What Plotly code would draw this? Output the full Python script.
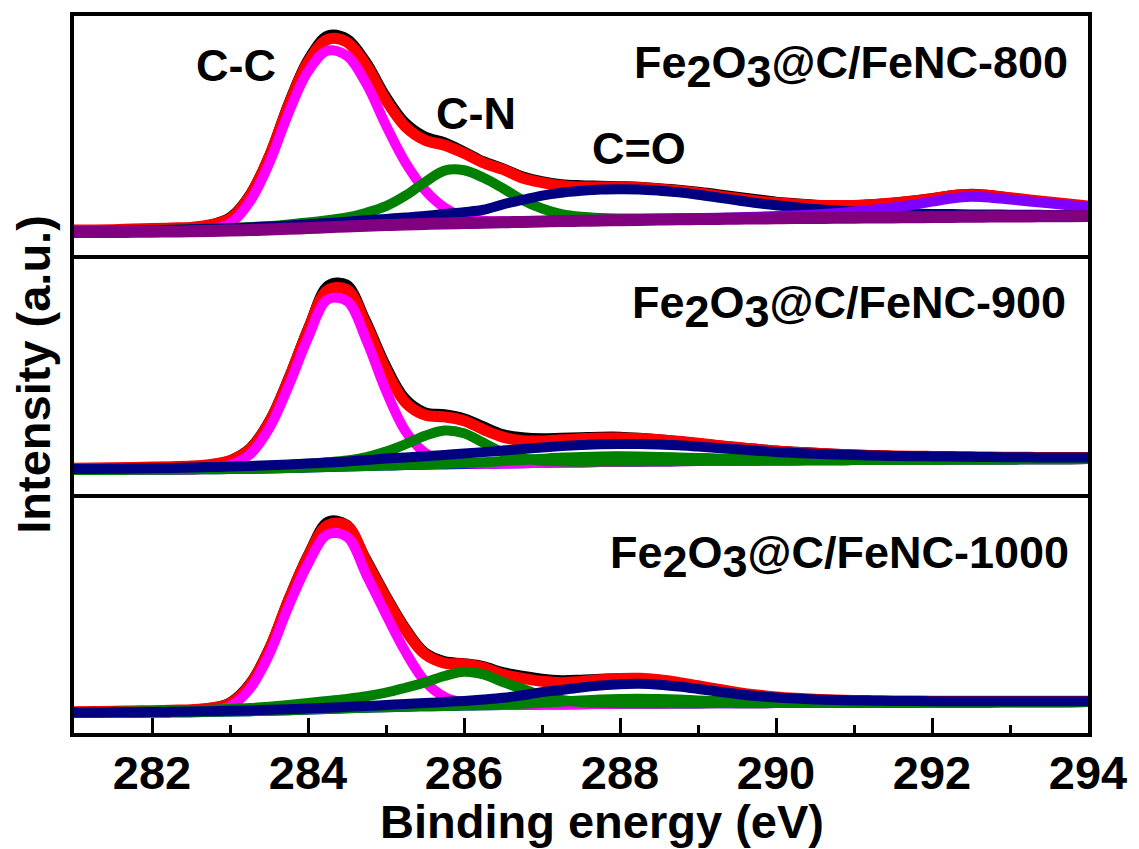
import numpy as np
import plotly.graph_objects as go
from plotly.subplots import make_subplots

# ---------------- data (intensity in a.u.) ----------------
binding_energy = np.round(np.arange(281.0, 294.0001, 0.25), 2)  # 53 sample energies (eV)

# Panel 1: Fe2O3@C/FeNC-800
bg_800 = [23, 23, 23, 23.2, 23.4, 23.6, 23.8, 24.1, 24.5, 25, 25.5, 26.2, 27, 27.8, 28.6, 29.4, 30, 30.6,
          31.1, 31.6, 32, 32.4, 32.8, 33.2, 33.6, 34, 34.3, 34.6, 34.9, 35.2, 35.5, 35.8, 36, 36.2, 36.4,
          36.6, 36.8, 37, 37.1, 37.3, 37.4, 37.6, 37.7, 37.9, 38, 38.2, 38.3, 38.5, 38.6, 38.7, 38.8, 38.9, 39]
cc_800 = [0, 0, 0, 0, 0, 0, 0, 2, 7, 28, 66, 116, 157, 177, 171, 142, 100, 62, 34, 16, 6, 2, 1,
          0, 0, 0, 0, 0, 0, 0, 0, 0, 0, 0, 0, 0, 0, 0, 0, 0, 0, 0, 0, 0, 0, 0, 0, 0, 0, 0, 0, 0, 0]
cn_800 = [1, 1, 1.2, 1.4, 1.6, 1.8, 2, 2.2, 2.5, 3, 3.5, 4.5, 5.5, 7, 9, 13, 19, 29, 42, 53, 53, 45, 34,
          22, 13, 7, 4, 2.5, 1.8, 1.4, 1.1, 0.9, 0.7, 0.6, 0.5, 0.4, 0.3, 0.3, 0.2, 0.2, 0.1,
          0, 0, 0, 0, 0, 0, 0, 0, 0, 0, 0, 0]
co_800 = [1, 1.1, 1.2, 1.4, 1.5, 1.7, 1.9, 2.1, 2.4, 2.7, 3, 3.4, 3.8, 4.3, 4.8, 5.4, 6.2, 7, 8, 9.5, 11,
          13, 18, 22, 26, 28.5, 30, 31, 31, 30.5, 29, 27, 24.5, 21.5, 18.5, 15.5, 13, 11, 9, 7.5, 6.2,
          5.2, 4.4, 3.7, 3.2, 2.8, 2.4, 2.1, 1.8, 1.6, 1.4, 1.2, 1]
sat_800 = [0, 0, 0, 0, 0, 0, 0, 0, 0, 0, 0, 0, 0, 0, 0, 0, 0, 0, 0, 0, 0, 0, 0, 0, 0, 0, 0, 0,
           0.5, 0.6, 0.7, 0.85, 1, 1.2, 1.5, 1.8, 2.2, 2.8, 3.6, 4.6, 6, 7.8, 10, 12.5, 15.5, 18.5,
           20, 19, 17, 15, 13, 11, 9]
raw_800 = [25.5, 25.5, 26, 26.5, 27, 27.5, 28.5, 31.5, 39, 62, 102, 155, 198, 221, 218, 195, 161, 134,
           120, 114, 105, 95, 88, 80, 75, 72, 71, 70.5, 70, 69.5, 68, 66.5, 64.5, 62, 59.5, 57, 54.5,
           53, 51.5, 51, 51, 52, 53.5, 55.5, 58, 61, 62.5, 61, 58.5, 56, 54, 51.5, 49.5]

# Panel 2: Fe2O3@C/FeNC-900
bg_900 = [24, 24, 24.1, 24.2, 24.3, 24.4, 24.6, 24.8, 25, 25.3, 25.6, 26, 26.5, 27, 27.5, 28, 28.5, 29,
          29.4, 29.7, 30, 30.3, 30.6, 30.9, 31.2, 31.5, 31.7, 32, 32.2, 32.4, 32.6, 32.8, 33, 33.15,
          33.3, 33.45, 33.6, 33.7, 33.8, 33.9, 34, 34.1, 34.2, 34.3, 34.4, 34.5, 34.55, 34.6, 34.7,
          34.75, 34.8, 34.9, 35]
cc_900 = [0, 0, 0, 0, 0, 0, 0, 1, 4, 14, 40, 82, 130, 168, 166, 126, 75, 34, 12, 3.5, 1,
          0, 0, 0, 0, 0, 0, 0, 0, 0, 0, 0, 0, 0, 0, 0, 0, 0, 0, 0, 0, 0, 0, 0, 0, 0, 0, 0, 0, 0, 0, 0, 0]
cn_900 = [0.8, 0.9, 1, 1.1, 1.2, 1.3, 1.5, 1.7, 2, 2.3, 2.6, 3.1, 3.8, 4.8, 6.2, 9, 14, 21, 29, 34, 31,
          21, 11, 5, 2.2, 1.2, 0.7, 0.5, 0.4, 0.3, 0.3, 0.2, 0.2, 0.1, 0.1,
          0, 0, 0, 0, 0, 0, 0, 0, 0, 0, 0, 0, 0, 0, 0, 0, 0, 0]
cn2_900 = [0, 0, 0, 0, 0, 0, 0, 0, 0, 0, 0, 0, 0, 0, 0, 0, 0, 0, 0.3, 0.6, 1, 1.6, 2.4, 3.3, 4.2, 5,
           5.5, 5.7, 5.6, 5.2, 4.6, 3.9, 3.2, 2.5, 1.9, 1.4, 1, 0.7, 0.5, 0.3, 0.2,
           0, 0, 0, 0, 0, 0, 0, 0, 0, 0, 0, 0]
co_900 = [1, 1.1, 1.2, 1.35, 1.5, 1.7, 1.9, 2.2, 2.5, 2.8, 3.2, 3.6, 4, 4.5, 5, 6, 7, 7.7, 8.5, 9.5,
          10.5, 11.7, 13, 14.3, 15.5, 16.6, 17.5, 18, 18, 17.7, 17, 16, 14.5, 13, 11.5, 10, 8.5, 7.5,
          6.5, 5.7, 5, 4.5, 4, 3.6, 3.3, 3, 2.7, 2.4, 2.2, 2, 1.8, 1.6, 1.5]
raw_900 = [26, 26.2, 26.5, 27, 27.3, 27.8, 28.6, 30.5, 35, 47, 75, 119, 169, 210, 211, 175, 131, 97, 83,
           81, 77, 69, 61, 58, 57, 57.5, 58, 58.5, 58.5, 57.5, 56, 54, 52, 50, 48, 46.3, 44.6, 43.4,
           42.3, 41.3, 40.5, 39.8, 39.2, 38.8, 38.5, 38.2, 37.9, 37.6, 37.4, 37.2, 37, 36.8, 36.7]

# Panel 3: Fe2O3@C/FeNC-1000
bg_1000 = [20, 20.1, 20.2, 20.35, 20.5, 20.7, 20.9, 21.2, 21.5, 21.9, 22.4, 22.9, 23.5, 24.1, 24.7,
           25.3, 25.9, 26.4, 26.8, 27.2, 27.5, 27.8, 28, 28.3, 28.5, 28.7, 28.9, 29.05, 29.2, 29.35,
           29.45, 29.6, 29.7, 29.8, 29.85, 29.9, 30, 30.1, 30.15, 30.2, 30.3, 30.35, 30.4, 30.45,
           30.5, 30.6, 30.65, 30.7, 30.8, 30.85, 30.9, 30.95, 31]
cc_1000 = [0, 0, 0, 0, 0, 0, 0, 1, 5, 22, 56, 104, 146, 175, 172, 133, 93, 55, 25, 9, 3, 1,
           0, 0, 0, 0, 0, 0, 0, 0, 0, 0, 0, 0, 0, 0, 0, 0, 0, 0, 0, 0, 0, 0, 0, 0, 0, 0, 0, 0, 0, 0, 0]
cn_1000 = [0.8, 0.9, 1, 1.2, 1.4, 1.6, 1.9, 2.2, 2.6, 3.1, 4, 5.2, 6.5, 8, 9.5, 11.5, 14.5, 19, 24,
           30, 34, 31, 23, 16, 9, 4.5, 2.2, 1.2, 0.7, 0.5, 0.4, 0.3, 0.2, 0.2, 0.1,
           0, 0, 0, 0, 0, 0, 0, 0, 0, 0, 0, 0, 0, 0, 0, 0, 0, 0]
cn2_1000 = [0, 0, 0, 0, 0, 0, 0, 0, 0, 0, 0, 0, 0, 0, 0, 0, 0, 0, 0, 0, 0, 0, 0.5, 1, 1.8, 2.8,
            3.8, 4.6, 5, 5, 4.6, 3.9, 3, 2.2, 1.5, 1, 0.6, 0.3, 0.1,
            0, 0, 0, 0, 0, 0, 0, 0, 0, 0, 0, 0, 0, 0]
co_1000 = [0.5, 0.5, 0.5, 0.5, 0.5, 0.55, 0.6, 0.65, 0.7, 0.75, 0.8, 0.9, 1, 1.2, 1.5, 1.8, 2.2, 2.7,
           3.2, 3.9, 4.7, 5.8, 7.3, 9.5, 12.5, 14.5, 16.8, 18.6, 19.8, 20, 19, 17, 14.5, 11.8, 9.3,
           7.2, 5.6, 4.4, 3.5, 2.9, 2.4, 2.1, 1.8, 1.6, 1.4, 1.3, 1.2, 1.1, 1, 0.95, 0.9, 0.85, 0.8]
raw_1000 = [21.5, 21.7, 22, 22.3, 22.7, 23.2, 24, 26, 32, 51, 87, 137, 181, 213, 210, 176, 140, 107,
            82, 73, 71, 68, 62, 58.5, 55.5, 54, 54.5, 55.5, 56, 55.5, 54, 51.5, 48, 44.5, 41, 38.5,
            36.5, 35, 34, 33.3, 32.8, 32.5, 32.3, 32.1, 32, 32, 31.9, 31.9, 31.9, 31.9, 31.8, 31.8, 31.8]

sample_names = ["Fe<sub><span style='font-size:45px'>2</span></sub>O<sub><span style='font-size:45px'>3</span></sub>@C/FeNC-800",
                "Fe<sub><span style='font-size:45px'>2</span></sub>O<sub><span style='font-size:45px'>3</span></sub>@C/FeNC-900",
                "Fe<sub><span style='font-size:45px'>2</span></sub>O<sub><span style='font-size:45px'>3</span></sub>@C/FeNC-1000"]
peak_labels = ["C-C", "C-N", "C=O"]
x_ticks = [282, 284, 286, 288, 290, 292, 294]

# ---------------- figure ----------------
W, H = 1139, 849
ML, MR, MT, MB = 74, 44, 14, 116
PW, PH = W - ML - MR, H - MT - MB
PANEL_H = PH / 3.0

fig = make_subplots(rows=3, cols=1, shared_xaxes=True, vertical_spacing=0)

BLACK, RED, MAGENTA, GREEN, NAVY, VIOLET, PURPLE, BLUE = (
    "#000000", "#FF0000", "#FF00FF", "#008000", "#000080", "#8000FF", "#800080", "#0000FF")


def add(row, y, color, width):
    fig.add_trace(go.Scatter(x=binding_energy, y=y, mode="lines",
                             line=dict(color=color, width=width, shape="spline", smoothing=1),
                             showlegend=False, hoverinfo="skip"), row=row, col=1)


panels = [
    dict(bg=bg_800, comps=[(cc_800, MAGENTA), (cn_800, GREEN), (co_800, NAVY), (sat_800, VIOLET)],
         raw=raw_800, bgcolor=PURPLE, bg_top=True),
    dict(bg=bg_900, comps=[(cc_900, MAGENTA), (cn_900, GREEN), (cn2_900, GREEN), (co_900, NAVY)],
         raw=raw_900, bgcolor=BLUE, bg_top=False),
    dict(bg=bg_1000, comps=[(cc_1000, MAGENTA), (cn_1000, GREEN), (cn2_1000, GREEN), (co_1000, NAVY)],
         raw=raw_1000, bgcolor=BLUE, bg_top=False),
]

for i, p in enumerate(panels):
    row = i + 1
    bg = np.array(p["bg"], dtype=float)
    envelope = bg.copy()
    for comp, _ in p["comps"]:
        envelope = envelope + np.array(comp, dtype=float)
    add(row, p["raw"], BLACK, 8)
    add(row, envelope, RED, 11)
    if not p["bg_top"]:
        add(row, bg, p["bgcolor"], 10)
    for comp, color in p["comps"]:
        add(row, bg + np.array(comp, dtype=float), color, 10)
    if p["bg_top"]:
        add(row, bg, p["bgcolor"], 12)

FONT = "Liberation Sans, Arial, Helvetica, sans-serif"

for r in (1, 2, 3):
    fig.update_yaxes(range=[0, PANEL_H], showticklabels=False, ticks="", showgrid=False,
                     zeroline=False, showline=True, linecolor="black", linewidth=4, mirror=True,
                     row=r, col=1)
    fig.update_xaxes(range=[281, 294], showgrid=False, zeroline=False, showline=True,
                     linecolor="black", linewidth=4, mirror=(r == 1), ticks="",
                     showticklabels=False, row=r, col=1)

fig.update_xaxes(row=3, col=1, ticks="inside", tickvals=x_ticks, ticklen=15, tickwidth=3,
                 tickcolor="black", showticklabels=True, ticklabelstandoff=-4,
                 tickfont=dict(family=FONT, size=47, color="black", weight="bold"),
                 minor=dict(dtick=1, tick0=281, ticks="inside", ticklen=8, tickwidth=3,
                            tickcolor="black", showgrid=False))


def px(x_px):
    return (x_px - ML) / PW


def py(y_px):
    return (MT + PH - y_px) / PH


ann_font = dict(family=FONT, size=45, color="black", weight="bold")
annotations = []
label_pos = [(1077, 65), (1075, 306), (1078, 557)]
for name, (xx, yy) in zip(sample_names, label_pos):
    annotations.append(dict(text=name, x=px(xx), y=py(yy), xref="paper", yref="paper",
                            xanchor="right", yanchor="middle", showarrow=False, font=ann_font))
for lab, (xx, yy) in zip(peak_labels, [(237, 64), (479, 112), (643, 147)]):
    annotations.append(dict(text=lab, x=px(xx), y=py(yy), xref="paper", yref="paper",
                            xanchor="center", yanchor="middle", showarrow=False, font=ann_font))
annotations.append(dict(text="Intensity (a.u.)", x=px(33), y=0.5, xref="paper", yref="paper",
                        xanchor="center", yanchor="middle", textangle=-90, showarrow=False,
                        font=dict(family=FONT, size=47, color="black", weight="bold")))
annotations.append(dict(text="Binding energy (eV)", x=px(606), y=py(822), xref="paper", yref="paper",
                        xanchor="center", yanchor="middle", showarrow=False,
                        font=dict(family=FONT, size=47, color="black", weight="bold")))

fig.update_layout(width=W, height=H, margin=dict(l=ML, r=MR, t=MT, b=MB, pad=0),
                  paper_bgcolor="white", plot_bgcolor="white", showlegend=False,
                  annotations=annotations, font=dict(family=FONT))

fig.write_html("out.html")
